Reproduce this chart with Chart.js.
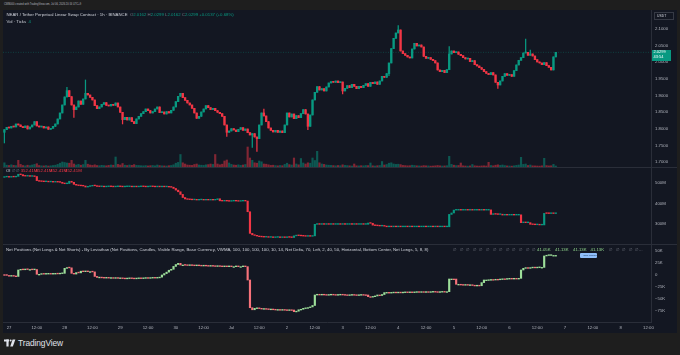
<!DOCTYPE html>
<html>
<head>
<meta charset="utf-8">
<script src="https://cdn.jsdelivr.net/npm/chart.js@4.4.1/dist/chart.umd.min.js"></script>
<style>
  body { margin: 0; width: 680px; height: 355px; overflow: hidden; background: #1e1e1e; position: relative;
         font-family: "Liberation Sans", Arial, sans-serif; }
  #frame { position: absolute; left: 3px; top: 10px; width: 674px; height: 323px; background: #131722; }
  canvas { position: absolute; left: 3px; }
  .t { position: absolute; white-space: nowrap; line-height: 1; font-size: 4.3px; color: #d1d4dc; }
  .sep { position: absolute; left: 3px; width: 674px; height: 1px; background: #2a2e39; }
  .g { color: #787b86; }
  .up { color: #089981; }
  .dn { color: #f23645; }
  .nl { color: #8fd48b; }
</style>
</head>
<body>
<div id="frame"></div>

<canvas id="priceChart" width="674" height="157" style="top:10px"></canvas>
<canvas id="oiChart" width="674" height="77" style="top:167px"></canvas>
<canvas id="netChart" width="674" height="89" style="top:244px"></canvas>
<div class="sep" style="top:167px"></div>
<div class="sep" style="top:244px"></div>

<!-- testi sopra al grafico -->
<div class="t" style="left:4px;top:3.6px;font-size:2.6px;color:#b2b5be">CWB000 created with TradingView.com, Jul 06, 2026 20:16 UTC+9</div>
<div class="t" style="left:6.5px;top:13.2px">NEAR / Tether Perpetual Linear Swap Contract · 1h · BINANCE&nbsp; <span class="g">O</span><span class="up">2.0162</span>&nbsp;<span class="g">H</span><span class="up">2.0299</span>&nbsp;<span class="g">L</span><span class="up">2.0162</span>&nbsp;<span class="g">C</span><span class="up">2.0299</span>&nbsp;<span class="up">+0.0137 (+0.68%)</span></div>
<div class="t" style="left:6.5px;top:20px">Vol · Ticks&nbsp; <span class="up">4</span></div>

<div class="t" style="left:654px;top:12.3px;width:20px;height:8px;border:0.5px solid #363a45;box-sizing:border-box;padding:1.8px 0 0 2px;font-size:3.4px;color:#d1d4dc">USDT</div>
<div class="t" style="left:652px;top:49.5px;width:19px;height:11px;background:#089981;color:#fff;font-size:4px;padding:0.8px 0 0 1.5px;box-sizing:border-box;line-height:1.15">2.0299<br>43:54</div>

<div class="t" style="left:6px;top:169.2px">OI <span class="g">∅ ∅</span></div>
<div class="t dn" style="left:20.7px;top:169.2px">352.41M</div>
<div class="t dn" style="left:35.7px;top:169.2px">352.41M</div>
<div class="t dn" style="left:50.3px;top:169.2px">352.41M</div>
<div class="t dn" style="left:65px;top:169.2px">352.41M</div>

<div class="t" style="left:6px;top:248.2px">Net Positions (Net Longs &amp; Net Shorts) - By Leviathan (Net Positions, Candles, Visible Range, Base Currency, VWMA, 100, 100, 100, 100, 10, 14, Net Delta, 70, Left, 2, 40, 50, Horizontal, Bottom Center, Net Longs, 5, 8, 8)</div>
<div class="t g" style="left:453px;top:248.2px;word-spacing:2.4px">∅ ∅ ∅ ∅ ∅ ∅ ∅ ∅ ∅ ∅ ∅ ∅ ∅</div>
<div class="t nl" style="left:537px;top:248.2px">41.05K</div>
<div class="t nl" style="left:555px;top:248.2px">41.13K</div>
<div class="t nl" style="left:573px;top:248.2px">41.13K</div>
<div class="t nl" style="left:590.5px;top:248.2px">41.13K</div>
<div class="t g" style="left:609px;top:248.2px;word-spacing:2.4px">∅ ∅ ∅ ∅ ∅…</div>
<div class="t" style="left:580px;top:253px;height:5px;width:17px;background:#90bff9;border-radius:1px;color:#1e3a5f;font-size:2.3px;padding:1.4px 0 0 3.5px;box-sizing:border-box">NET LONGS</div>

<!-- logo -->
<svg style="position:absolute;left:4px;top:339px" width="12" height="8" viewBox="0 0 12 8">
  <rect x="0" y="0.5" width="5" height="2" fill="#e0e3eb"/>
  <rect x="2.4" y="0.5" width="2.2" height="7" fill="#e0e3eb"/>
  <circle cx="6.6" cy="1.5" r="1" fill="#e0e3eb"/>
  <polygon points="8.6,0.5 11.4,0.5 8.8,7.5 6.2,7.5" fill="#e0e3eb"/>
</svg>
<div class="t" style="left:18px;top:339px;font-size:8.4px;color:#e0e3eb;letter-spacing:-0.1px">TradingView</div>

<script>
// --- dati (candele orarie, ora 0 = 27 giu 00:00) ---
const firstHour = -2;
const firstOpen = 1.790;

// chiusure NEAR/USDT 1h
const closes = [
  1.798, 1.805, 1.803, 1.808, 1.806, 1.815, 1.812, 1.807, 1.804, 1.809,
  1.800, 1.806, 1.812, 1.822, 1.809, 1.806, 1.808, 1.803, 1.806, 1.799,
  1.802, 1.808, 1.815, 1.830, 1.848, 1.872, 1.896, 1.915, 1.897, 1.872,
  1.858, 1.866, 1.884, 1.874, 1.890, 1.907, 1.902, 1.895, 1.887, 1.870,
  1.861, 1.866, 1.874, 1.879, 1.871, 1.869, 1.874, 1.871, 1.878, 1.866,
  1.850, 1.828, 1.835, 1.827, 1.834, 1.822, 1.816, 1.830, 1.838, 1.846,
  1.852, 1.860, 1.855, 1.848, 1.852, 1.860, 1.866, 1.849, 1.851, 1.845,
  1.852, 1.848, 1.856, 1.866, 1.882, 1.898, 1.907, 1.894, 1.886, 1.878,
  1.872, 1.862, 1.848, 1.832, 1.838, 1.851, 1.860, 1.870, 1.864, 1.858,
  1.862, 1.855, 1.850, 1.846, 1.838, 1.812, 1.790, 1.794, 1.801, 1.797,
  1.792, 1.799, 1.804, 1.796, 1.800, 1.789, 1.782, 1.786, 1.776, 1.771,
  1.812, 1.848, 1.839, 1.822, 1.803, 1.796, 1.791, 1.796, 1.790, 1.794,
  1.789, 1.812, 1.848, 1.836, 1.845, 1.831, 1.840, 1.834, 1.846, 1.858,
  1.845, 1.808, 1.842, 1.887, 1.910, 1.927, 1.917, 1.921, 1.914, 1.926,
  1.938, 1.942, 1.940, 1.944, 1.939, 1.941, 1.914, 1.922, 1.930, 1.924,
  1.934, 1.928, 1.921, 1.928, 1.924, 1.931, 1.936, 1.928, 1.940, 1.936,
  1.941, 1.934, 1.944, 1.958, 1.955, 1.966, 1.998, 2.041, 2.072, 2.088,
  2.097, 2.034, 2.026, 2.021, 2.016, 2.013, 2.040, 2.057, 2.049, 2.052,
  2.046, 2.018, 2.012, 2.014, 2.009, 2.005, 1.998, 1.977, 1.972, 1.976,
  1.969, 1.978, 2.025, 2.034, 2.029, 2.031, 2.024, 2.020, 2.014, 2.010,
  2.012, 2.002, 2.005, 1.993, 1.989, 1.984, 1.979, 1.972, 1.967, 1.963,
  1.969, 1.962, 1.940, 1.932, 1.944, 1.958, 1.966, 1.961, 1.963, 1.958,
  1.975, 1.992, 2.006, 2.014, 2.028, 2.030, 2.021, 2.025, 2.019, 2.008,
  2.001, 1.998, 1.993, 1.999, 1.990, 1.985, 1.977, 2.0162, 2.0299
];

// ombre evidenti: [ora, massimo, minimo]
const wicks = [
  [-2, null, 1.758], [25, 1.925, null], [28, null, 1.835], [33, 1.947, null],
  [49, null, 1.815], [94, null, 1.778], [105, null, 1.745], [107, null, 1.733],
  [110, 1.860, null], [129, null, 1.798], [144, null, 1.905], [164, null, 1.960],
  [168, 2.110, null], [190, 2.047, null], [211, null, 1.922], [223, 2.070, null],
  [225, 2.037, null]
];

// volume (migliaia di NEAR)
const volumes = [
  420, 180, 150, 220, 160, 140, 670, 260, 150, 120,
  180, 140, 200, 260, 330, 150, 120, 110, 140, 100,
  120, 150, 180, 260, 380, 500, 450, 400, 380, 670,
  300, 200, 260, 180, 240, 670, 280, 200, 160, 220,
  150, 130, 170, 140, 120, 160, 200, 180, 1000, 260,
  200, 350, 180, 150, 200, 170, 240, 160, 150, 130,
  120, 140, 110, 130, 150, 120, 200, 140, 120, 110,
  100, 130, 150, 220, 380, 460, 1250, 420, 300, 200,
  180, 160, 250, 300, 200, 180, 160, 220, 240, 300,
  260, 1250, 300, 220, 280, 600, 700, 400, 260, 200,
  180, 220, 160, 200, 250, 2000, 900, 670, 420, 380,
  600, 520, 300, 280, 220, 160, 180, 140, 120, 150,
  130, 260, 380, 240, 200, 900, 300, 220, 850, 400,
  300, 420, 380, 900, 650, 1570, 420, 300, 260, 200,
  180, 160, 140, 120, 150, 130, 220, 160, 140, 120,
  100, 300, 120, 110, 130, 120, 150, 140, 400, 120,
  100, 130, 150, 550, 200, 250, 380, 420, 300, 260,
  280, 240, 160, 140, 120, 130, 180, 150, 120, 110,
  100, 140, 120, 110, 90, 100, 120, 150, 120, 100,
  110, 130, 1070, 260, 180, 140, 150, 400, 120, 100,
  90, 110, 250, 120, 100, 90, 110, 120, 100, 470,
  150, 120, 180, 220, 160, 200, 140, 110, 100, 90,
  120, 160, 200, 970, 260, 300, 150, 200, 120, 110,
  100, 90, 120, 870, 140, 110, 120, 260, 100
];

// open interest (milioni)
const oiFirstOpen = 528;
const oiCloses = [
  530, 531, 529, 532, 530, 533, 543, 541, 535, 534,
  536, 533, 534, 532, 512, 509, 508, 507, 508, 506,
  507, 505, 506, 505, 504, 499, 497, 498, 509, 504,
  494, 490, 488, 487, 486, 481, 484, 486, 488, 487,
  484, 483, 484, 482, 483, 484, 483, 482, 483, 484,
  483, 482, 483, 483, 484, 482, 483, 482, 483, 484,
  483, 482, 483, 484, 483, 482, 483, 482, 483, 482,
  483, 481, 480, 474, 466, 458, 445, 430, 423, 421,
  420, 419, 420, 418, 419, 420, 418, 419, 418, 419,
  418, 420, 424, 414, 413, 414, 413, 412, 413, 414,
  413, 412, 413, 414, 413, 361, 256, 249, 246, 243,
  240, 239, 238, 239, 237, 238, 236, 237, 238, 236,
  237, 236, 238, 237, 236, 244, 246, 245, 244, 243,
  242, 243, 242, 244, 300, 301, 300, 301, 300, 301,
  300, 301, 300, 300, 301, 300, 301, 300, 300, 301,
  300, 301, 300, 300, 301, 300, 300, 306, 305, 296,
  294, 293, 292, 292, 291, 288, 289, 288, 289, 288,
  289, 288, 288, 289, 288, 289, 288, 288, 289, 288,
  288, 289, 288, 288, 289, 288, 289, 288, 288, 289,
  288, 288, 348, 355, 369, 369, 370, 369, 369, 370,
  369, 370, 369, 369, 370, 369, 370, 369, 369, 370,
  348, 350, 349, 348, 349, 345, 346, 345, 345, 346,
  345, 345, 346, 308, 309, 308, 308, 300, 299, 298,
  298, 297, 297, 353, 352.8, 352.5, 352.6, 352.4, 352.41
];

// posizioni nette (migliaia)
const netFirstOpen = 1;
const netCloses = [
  0, -1, -2, -1, -2, -3, 10.5, 11.5, 11, 12,
  11.5, 11.5, 11, 11.5, 1.5, 1.5, 2, 1.8, 2, 2.2,
  1.9, 2, 2.5, 2.3, 3, 3.5, 14, 15.5, 15, 3.5,
  2, 5, 4.5, 8, 7, 7.5, 7, 7, 6.5, -3,
  -5, -4.5, -5, -5.5, -5, -6, -5.5, -6, -5.5, -6.5,
  -6, -6.5, -7, -6.5, -6, -6.5, -7, -6.5, -6, -6.5,
  -6, -5.5, -6, -5.5, -5, -5.5, -5, -4.5, 0, 3,
  6, 10, 12, 18, 22, 24.5, 21, 21, 20.5, 20,
  20.5, 20, 19.5, 20, 19.5, 19, 19.5, 19, 18.5, 19,
  18.5, 18, 18.5, 18, 17.5, 18, 17.5, 18, 17.5, 17.5,
  18, 17.5, 17.5, 18, 17.5, -10.5, -68.7, -73, -70, -69,
  -70, -71, -70.5, -71, -72, -71.5, -72, -73, -72.5, -73,
  -72.5, -73, -73.5, -73, -73.5, -77, -76, -73, -72, -70,
  -69, -68.5, -67, -64, -42, -40.5, -41, -40.5, -41, -41.5,
  -41, -40.5, -41, -41.5, -41, -40.5, -41, -41.5, -42, -41.5,
  -41, -41.5, -42, -41.5, -41, -41.5, -42, -45.5, -46, -45,
  -44, -42, -43, -41, -37, -36.5, -37, -36.5, -36, -36.5,
  -36, -36.5, -36, -35.5, -36, -35.5, -36, -35.5, -35, -35.5,
  -35, -35.5, -35, -35.5, -35, -34.5, -35, -35.5, -35, -34.5,
  -35, -35, -8.4, -8.4, -8.5, -19.5, -19.5, -20, -20.5, -20,
  -21, -20.5, -21.5, -22, -21.5, -22.5, -16, -10.5, -10.5, -10,
  -9.5, -10, -9, -9.5, -8.5, -8, -8.5, -7.5, -7, -7.5,
  -7, -7.5, -7, 10.5, 14, 14.5, 14, 15, 15.5, 15,
  15.5, 16, 16, 40, 41.05, 41.1, 41.13, 41.13, 41.13
];

// tacche
const priceTicks = [1.70, 1.75, 1.80, 1.85, 1.90, 1.95, 2.00, 2.05, 2.10];
const oiTicks = [300, 400, 500];
const netTicks = [50, 25, 0, -25, -50, -75];
const timeTickHours = [0, 12, 24, 36, 48, 60, 72, 84, 96, 108, 120, 132, 144, 156, 168, 180, 192, 204, 216, 228, 240, 252, 264, 276];
const timeTickLabels = ['27', '12:00', '28', '12:00', '29', '12:00', '30', '12:00', 'Jul', '12:00', '2', '12:00',
                        '3', '12:00', '4', '12:00', '5', '12:00', '6', '12:00', '7', '12:00', '8', '12:00'];

// --- costruzione ---
const X_MIN = -2.6, X_MAX = 277.1;
const UP = '#089981', DOWN = '#f23645';
const FONT = { family: '"Liberation Sans", Arial, sans-serif', size: 4.3 };

const hours = closes.map((_, i) => firstHour + i);
const opens = closes.map((c, i) => i === 0 ? firstOpen : closes[i - 1]);
const highs = closes.map((c, i) => Math.max(c, opens[i]));
const lows = closes.map((c, i) => Math.min(c, opens[i]));
wicks.forEach(([h, hi, lo]) => {
    const i = h - firstHour;
    if (hi !== null) highs[i] = hi;
    if (lo !== null) lows[i] = lo;
});
const candleColors = closes.map((c, i) => c >= opens[i] ? UP : DOWN);
const volColors = closes.map((c, i) => c >= opens[i] ? 'rgba(8,153,129,0.5)' : 'rgba(242,54,69,0.5)');

function stepOpens(first, arr) {
    return arr.map((c, i) => i === 0 ? first : arr[i - 1]);
}

// asse x comune
function xScale(show) {
    const s = {
        type: 'linear', min: X_MIN, max: X_MAX, offset: false, display: show,
        grid: { display: false, drawTicks: false },
        border: { display: true, color: '#2a2e39' }
    };
    if (show) {
        s.ticks = { color: '#b2b5be', font: FONT, padding: 3, autoSkip: false, maxRotation: 0, minRotation: 0,
                    callback: (v, i) => timeTickLabels[i] };
        s.afterBuildTicks = sc => { sc.ticks = timeTickHours.map(v => ({ value: v })); };
        s.afterFit = sc => { sc.height = 11; sc.paddingLeft = 0; sc.paddingRight = 0; };
    }
    return s;
}

// asse y a destra
function yScale(min, max, ticks, fmt) {
    return {
        position: 'right', min: min, max: max, beginAtZero: false,
        grid: { display: false, drawTicks: false },
        border: { display: true, color: '#2a2e39' },
        ticks: { color: '#b2b5be', font: FONT, padding: 4, callback: fmt },
        afterBuildTicks: sc => { sc.ticks = ticks.map(v => ({ value: v })); },
        afterFit: sc => { sc.width = 26; sc.paddingTop = 0; sc.paddingBottom = 0; }
    };
}

const baseOptions = {
    responsive: false, animation: false, devicePixelRatio: 1,
    layout: { padding: 0 },
    plugins: { legend: { display: false }, tooltip: { enabled: false } }
};

// pannello prezzo + volume
new Chart(document.getElementById('priceChart'), {
    type: 'bar',
    data: {
        datasets: [
            { data: hours.map((h, i) => ({ x: h, y: [opens[i], closes[i]] })), backgroundColor: candleColors,
              barThickness: 1.7, minBarLength: 1, grouped: false, order: 1, yAxisID: 'y' },
            { data: hours.map((h, i) => ({ x: h, y: [lows[i], highs[i]] })), backgroundColor: candleColors,
              barThickness: 0.6, grouped: false, order: 2, yAxisID: 'y' },
            { type: 'line', data: [{ x: X_MIN, y: closes[closes.length - 1] }, { x: X_MAX, y: closes[closes.length - 1] }],
              borderColor: 'rgba(8,153,129,0.55)', borderWidth: 0.6, borderDash: [1, 1.5], pointRadius: 0, order: 3, yAxisID: 'y' },
            { data: hours.map((h, i) => ({ x: h, y: volumes[i] })), backgroundColor: volColors,
              barThickness: 1.5, grouped: false, order: 4, yAxisID: 'v' }
        ]
    },
    options: {
        ...baseOptions,
        scales: {
            x: xScale(false),
            y: yScale(1.6859, 2.1569, priceTicks, v => v.toFixed(4)),
            v: { display: false, min: 0, max: 15700 }
        }
    }
});

// pannello open interest
const oiOpens = stepOpens(oiFirstOpen, oiCloses);
new Chart(document.getElementById('oiChart'), {
    type: 'bar',
    data: {
        datasets: [{
            data: hours.map((h, i) => ({ x: h, y: [oiOpens[i], oiCloses[i]] })),
            backgroundColor: oiCloses.map((c, i) => c >= oiOpens[i] ? UP : DOWN),
            barThickness: 1.5, minBarLength: 0.7, grouped: false
        }]
    },
    options: {
        ...baseOptions,
        scales: { x: xScale(false), y: yScale(204.4, 578.2, oiTicks, v => v + 'M') }
    }
});

// pannello posizioni nette
const netOpens = stepOpens(netFirstOpen, netCloses);
new Chart(document.getElementById('netChart'), {
    type: 'bar',
    data: {
        datasets: [{
            data: hours.map((h, i) => ({ x: h, y: [netOpens[i], netCloses[i]] })),
            backgroundColor: netCloses.map((c, i) => c >= netOpens[i] ? '#9ddf9a' : '#f7727a'),
            barThickness: 1.5, minBarLength: 0.7, grouped: false
        }]
    },
    options: {
        ...baseOptions,
        scales: {
            x: xScale(true),
            y: yScale(-98.7, 65.1, netTicks, v => v === 0 ? '0' : (v < 0 ? '−' : '') + Math.abs(v) + 'K')
        }
    }
});
</script>
</body>
</html>
